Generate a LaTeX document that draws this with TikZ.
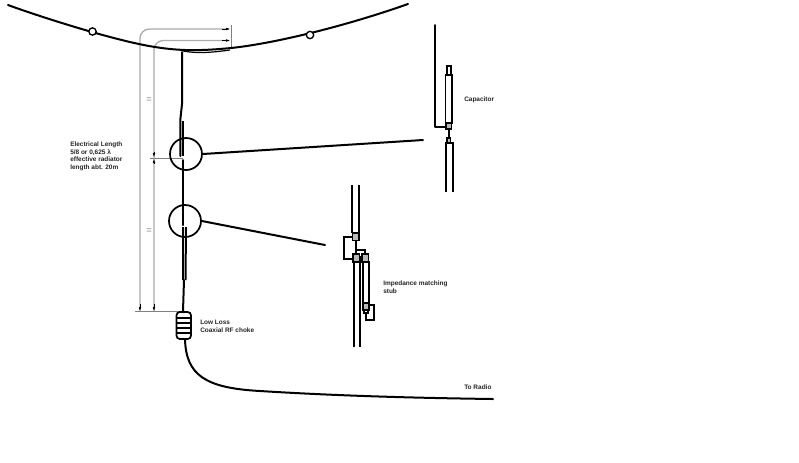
\documentclass[tikz,border=0pt]{standalone}
\usepackage{fontspec}
\setmainfont{Liberation Sans}
\usetikzlibrary{arrows.meta}
\tikzset{
  x=0.75pt,y=-0.75pt,
  wire/.style={line width=1.5pt,black,line cap=round,line join=round},
  thinw/.style={line width=1.5pt,black},
  part/.style={line width=1.3pt,black,fill=white},
  smallpart/.style={line width=1.3pt,black,fill=gray!55},
  dimg/.style={line width=1pt,gray!65,rounded corners=7pt},
  thing/.style={line width=0.5pt,gray},
  tinyarrow/.style={-{Latex[length=3pt,width=2pt]},black,line width=0.4pt},
  lab/.style={font=\bfseries\fontsize{4.85}{5.7}\selectfont,anchor=west,inner sep=0pt,align=left,text=black!85},
  eq/.style={font=\fontsize{7}{7}\selectfont,text=gray,inner sep=0pt},
  ins/.style={circle,draw=black,fill=white,line width=1pt,minimum size=5.5pt,inner sep=0pt},
  magn/.style={circle,draw=black,line width=1.3pt,minimum size=24pt,inner sep=0pt}
}
\begin{document}
\begin{tikzpicture}
\useasboundingbox (0,0) rectangle (799,462);
\fill[white] (0,0) rectangle (799,462);
% dimension lines
\draw[dimg] (140,311) -- (140,29) -- (229,29);
\draw[dimg] (154,311) -- (154,40.5) -- (229,40.5);
\draw[thing] (231,25) -- (231,48);
\draw[thing] (135,311) -- (181,311);
\draw[thing] (150,158) -- (183,158);
\draw[tinyarrow] (222,29) -- (230,29);
\draw[tinyarrow] (222,40.5) -- (230,40.5);
\draw[tinyarrow] (140,304) -- (140,311);
\draw[tinyarrow] (154,304) -- (154,311);
\draw[tinyarrow] (154,152) -- (154,157);
\draw[tinyarrow] (154,164) -- (154,159);
\node[eq] (e1) at (149,100) {=};
\node[eq] (e2) at (149,231) {=};
% antenna wire
\coordinate (wl) at (8,5);
\coordinate (wr) at (408,4);
\draw[wire] (wl) .. controls (35,15) and (115,41) .. (155,47)
  .. controls (180,51) and (200,51) .. (231,48)
  .. controls (270,44) and (340,28) .. (wr);
\draw[line width=0.9pt,black] (183,51) .. controls (200,54) and (215,52) .. (230,50);
\node[ins] (i1) at (92.5,31.5) {};
\node[ins] (i2) at (310,35) {};
% radiator
\draw[wire] (182,52) -- (182,104) -- (180.3,120) -- (180.3,156);
\draw[thinw] (183.3,121) -- (183.3,156);
\draw[wire] (183,160) -- (183,225);
\draw[thinw] (183,227) -- (183,280);
\draw[thinw] (186,227) -- (185.5,280);
\draw[wire] (184,280) -- (183,311);
\node[magn] (c1) at (186,154) {};
\node[magn] (c2) at (185,221) {};
\coordinate (cap) at (423,140);
\coordinate (stb) at (325,245);
\draw[wire] (c1.east) -- (cap);
\draw[wire] (c2.east) -- (stb);
% choke
\draw[wire] (185,339) .. controls (186,375) and (205,388) .. (260,391)
  .. controls (340,396) and (420,398) .. (493,399);
\draw[line width=1.3pt,black,fill=white,rounded corners=2.5pt] (176.5,312) rectangle (191,339);
\foreach \yy in {318,323,328,333} \draw[line width=1.1pt,black] (176.5,\yy) -- (191,\yy);
% capacitor detail
\draw[wire] (435,25) -- (435,127) -- (446,127);
\draw[part] (447,66) rectangle (451,75);
\draw[part] (445.5,75) rectangle (452,123);
\draw[smallpart] (446,123) rectangle (451.5,129);
\draw[line width=1.2pt] (448.7,129) -- (448.7,138);
\draw[smallpart] (447,138) rectangle (450.5,143);
\draw[thinw] (445.5,192) -- (445.5,143) -- (452.5,143) -- (452.5,192);
% stub detail
\draw[thinw] (352.3,185) -- (352.3,233);
\draw[thinw] (359,185) -- (359,233);
\draw[thinw] (353,237) -- (343.5,237) -- (343.5,258.5) -- (354,258.5);
\draw[thinw] (356,240) -- (356,250) -- (365,250) -- (365,255);
\draw[thinw] (356,240) -- (356,255);
\draw[smallpart] (352.5,233) rectangle (359,240.5);
\draw[smallpart] (353,254) rectangle (359.5,262);
\draw[smallpart] (362,254) rectangle (368.5,262);
\fill[black] (359.5,256) rectangle (362,262);
\draw[thinw] (353.5,262) -- (353.5,347);
\draw[thinw] (359.5,262) -- (359.5,347);
\draw[part] (363,262) rectangle (369,303);
\draw[thinw] (367,305) -- (374,305) -- (374,320) -- (365.5,320) -- (365.5,313);
\draw[smallpart] (363,303) rectangle (369,310);
\draw[part] (364,310) rectangle (368,313);
% labels
\node[lab] (t1) at (70,156.5) {Electrical Length\\5/8 or 0,625 λ\\effective radiator\\length abt. 20m};
\node[lab] (t2) at (464,99.5) {Capacitor};
\node[lab] (t3) at (383,287) {Impedance matching\\stub};
\node[lab] (t4) at (200,326) {Low Loss\\Coaxial RF choke};
\node[lab] (t5) at (464,387) {To Radio};
\end{tikzpicture}
\end{document}
